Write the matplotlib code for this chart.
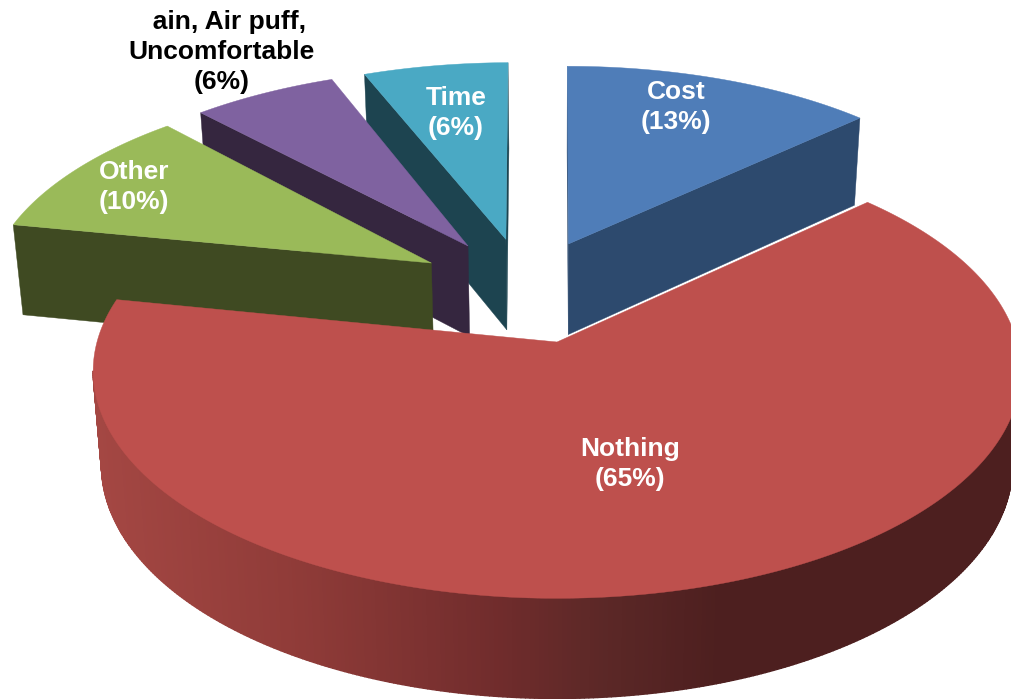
"""
3D exploded pie drawn by hand, matplotlib has no real 3D pie
"""
import matplotlib
matplotlib.use("Agg")
import matplotlib.pyplot as plt
from matplotlib.collections import PolyCollection
import numpy as np

# data, clockwise from 12 o'clock
labels = ["Cost\n(13%)", "Nothing\n(65%)", "Other\n(10%)",
          "  ain, Air puff,\nUncomfortable\n(6%)", "Time\n(6%)"]
values = [13, 65, 10, 6, 6]

# slice styles
top_colors = ["#4f7db8", "#be504d", "#9aba59", "#7f62a0", "#4aa9c4"]
face_colors = ["#2d4a6e", "#4d1f1f", "#3f4a22", "#35263f", "#1d4450"]
label_colors = ["white", "white", "white", "black", "white"]
label_x = [676, 630, 134, 222, 456]
label_y = [107, 464, 187, 52, 113]
explode_x = [0.0265, 0.0, -0.286, -0.2047, -0.118]
explode_y = [0.465, 0.0, 0.37, 0.4545, 0.488]
twist = [0.0, 0.4, 0.3, -0.2, -0.5]
draw_order = [4, 3, 2, 0, 1]

# camera
CX, CY = 557, 342
SCALE_X, SCALE_Y = 460, 223.5
PERSP = 0.128
SHRINK = 0.018
DEPTH_A, DEPTH_B = 84, 0.027

# gradient of the big outer wall, by screen x
wall_x = [95, 300, 500, 600, 720, 1012]
wall_r = [0xa4, 0x8f, 0x70, 0x5c, 0x4d, 0x4d]
wall_g = [0x47, 0x3b, 0x2c, 0x28, 0x1f, 0x1f]
wall_b = [0x43, 0x38, 0x2c, 0x27, 0x1f, 0x1f]


def project(px, py):
    """Plano de la tarta a pixeles"""
    w = 1 + PERSP * py
    return CX + SCALE_X * px / w, CY - SCALE_Y * py / w


def extrude(x, y):
    """Cara superior a cara inferior"""
    return CX + (x - CX) * (1 - SHRINK), y + DEPTH_A + DEPTH_B * y


def signed_area(xs, ys):
    return 0.5 * np.sum(xs * np.roll(ys, -1) - np.roll(xs, -1) * ys)


def draw_slice(ax, i, t0, t1):
    theta = np.radians(np.linspace(t0, t1, max(int(t1 - t0) * 2, 8)) + twist[i])
    ox, oy = explode_x[i], explode_y[i]
    rim_x, rim_y = project(ox + np.sin(theta), oy + np.cos(theta))
    ap_x, ap_y = project(ox, oy)
    rim_bx, rim_by = extrude(rim_x, rim_y)
    ap_bx, ap_by = extrude(ap_x, ap_y)

    # outer wall, only the part facing the viewer
    quads, colors = [], []
    for j in range(len(theta) - 1):
        if rim_x[j + 1] < rim_x[j]:
            quads.append([(rim_x[j], rim_y[j]), (rim_x[j + 1], rim_y[j + 1]),
                          (rim_bx[j + 1], rim_by[j + 1]), (rim_bx[j], rim_by[j])])
            mid = (rim_x[j] + rim_x[j + 1]) / 2
            colors.append((np.interp(mid, wall_x, wall_r) / 255,
                           np.interp(mid, wall_x, wall_g) / 255,
                           np.interp(mid, wall_x, wall_b) / 255))
    if quads:
        ax.add_collection(PolyCollection(quads, facecolors=colors, edgecolors=colors, linewidths=1.0))

    # radial cut faces
    for k, sign in ((0, -1), (-1, 1)):
        xs = np.array([ap_x, rim_x[k], rim_bx[k], ap_bx])
        ys = np.array([ap_y, rim_y[k], rim_by[k], ap_by])
        if signed_area(xs, ys) * sign > 0:
            ax.fill(xs, ys, color=face_colors[i], lw=0.3)

    # top
    ax.fill(np.r_[ap_x, rim_x], np.r_[ap_y, rim_y], color=top_colors[i], lw=0.3)


def main():
    fig = plt.figure(figsize=(10.12, 6.99), dpi=100)
    ax = fig.add_axes([0, 0, 1, 1])
    ax.set_xlim(0, 1012)
    ax.set_ylim(699, 0)
    ax.axis("off")

    edges = np.r_[0, np.cumsum(values)] / np.sum(values) * 360
    for i in draw_order:
        draw_slice(ax, i, edges[i], edges[i + 1])

    for i, text in enumerate(labels):
        ax.text(label_x[i], label_y[i], text, color=label_colors[i], ha="center", va="center",
                family="Liberation Sans", weight="bold", fontsize=19, linespacing=1.3)

    fig.savefig("out.png", dpi=100)


if __name__ == "__main__":
    main()
